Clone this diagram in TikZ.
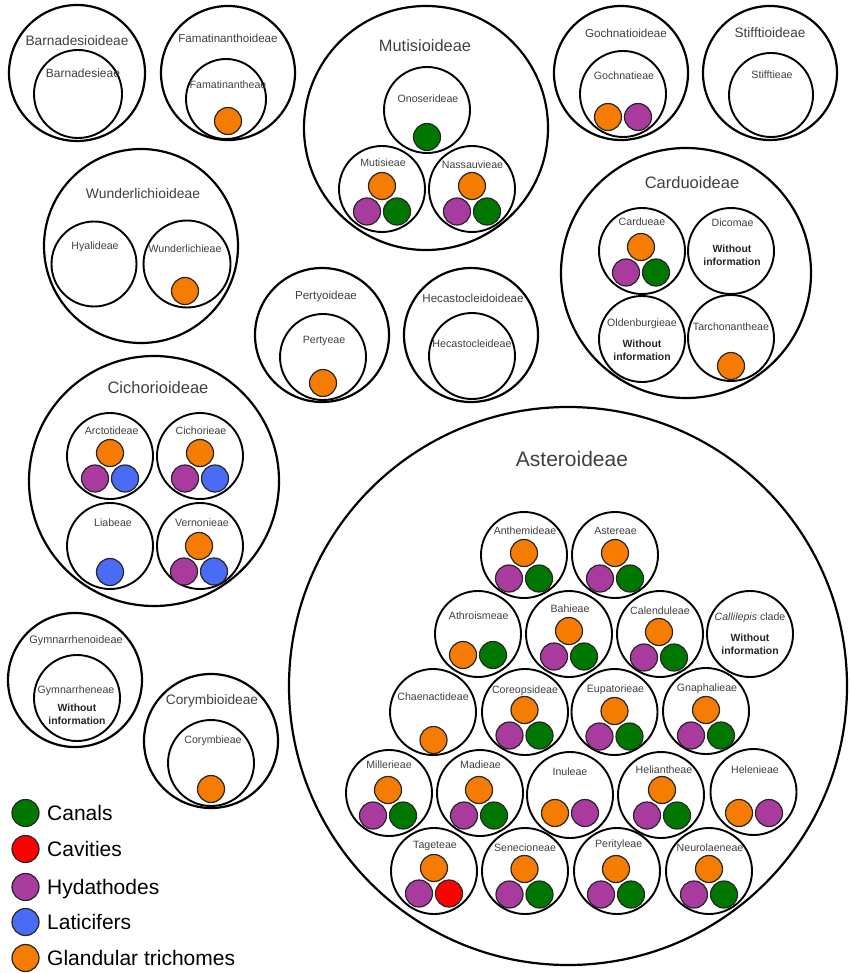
\documentclass[tikz,border=0pt]{standalone}
\usepackage{fontspec}
\setmainfont{Liberation Sans}
\definecolor{corange}{HTML}{F57C00}
\definecolor{cpurple}{HTML}{A93B9E}
\definecolor{cgreen}{HTML}{007800}
\definecolor{cblue}{HTML}{4A6CF4}
\definecolor{cred}{HTML}{FF0000}
\definecolor{labgray}{HTML}{404040}
% trio of dots: name, x, y (top dot), top colour, left colour, right colour
\newcommand\trio[6]{%
  \node[dot,fill=#5] (#1-l) at (#2-15,#3+25.5) {};
  \node[dot,fill=#6] (#1-r) at (#2+15,#3+25.5) {};
  \node[dot,fill=#4] (#1-t) at (#2,#3) {};}
% pair of dots: name, x (middle), y, left colour, right colour
\newcommand\duo[5]{%
  \node[dot,fill=#4] (#1-l) at (#2-15,#3) {};
  \node[dot,fill=#5] (#1-r) at (#2+15,#3) {};}
\begin{document}
\begin{tikzpicture}[x=1pt,y=-1pt,
  subfam/.style={circle,draw,line width=2.2pt,inner sep=0pt,minimum size=#1},
  tribe/.style={circle,draw,line width=1.9pt,inner sep=0pt,minimum size=86pt},
  dot/.style={circle,draw=black!85,line width=1.2pt,inner sep=0pt,minimum size=27pt},
  lab/.style={inner sep=0pt,text depth=0pt,text=labgray,font=\fontsize{10.6}{12.5}\selectfont},
  sflab/.style={inner sep=0pt,text depth=0pt,text=labgray,font=\fontsize{#1}{#1}\selectfont},
  noinfo/.style={inner sep=0pt,align=center,text=black!85,font=\fontsize{10.4}{12.8}\selectfont\bfseries},
  legtext/.style={inner sep=0pt,text depth=0pt,anchor=west,text=black,font=\fontsize{21}{24}\selectfont}
]
\fill[white] (0,0) rectangle (849,973);
\useasboundingbox (0,0) rectangle (849,973);

% ---------------- Barnadesioideae
\node[subfam=136pt] (barO) at (77,73) {};
\node[tribe,minimum size=88pt] (barI) at (78,94) {};
\node[sflab=13.7] (barL) at (77,41) {Barnadesioideae};
\node[lab,font=\fontsize{12}{14}\selectfont] (barT) at (83,73) {Barnadesieae};

% ---------------- Famatinanthoideae
\node[subfam=134pt] (famO) at (228,73) {};
\node[tribe,minimum size=80pt] (famI) at (226,99) {};
\node[sflab=11.6] (famL) at (228,38) {Famatinanthoideae};
\node[lab] (famT) at (228,85) {Famatinantheae};
\node[dot,fill=corange] (famD) at (228,121) {};

% ---------------- Gochnatioideae
\node[subfam=134pt] (gocO) at (621,73) {};
\node[tribe] (gocI) at (623,94) {};
\node[sflab=11.7] (gocL) at (626,33) {Gochnatioideae};
\node[lab] (gocT) at (624,76) {Gochnatieae};
\duo{goc}{623}{117}{corange}{cpurple}

% ---------------- Stifftioideae
\node[subfam=134pt] (stiO) at (770,73) {};
\node[tribe,minimum size=84pt] (stiI) at (771,95) {};
\node[sflab=13.6] (stiL) at (770,33) {Stifftioideae};
\node[lab] (stiT) at (772,75) {Stifftieae};

% ---------------- Mutisioideae
\node[subfam=244pt] (mutO) at (426,128) {};
\node[sflab=16.4] (mutL) at (425,46) {Mutisioideae};
\node[tribe] (onoI) at (427,110) {};
\node[lab] (onoT) at (428,99) {Onoserideae};
\node[dot,fill=cgreen] (onoD) at (427,137) {};
\node[tribe] (mtsI) at (382,189) {};
\node[lab] (mtsT) at (383,163) {Mutisieae};
\trio{mts}{382}{186}{corange}{cpurple}{cgreen}
\node[tribe] (nasI) at (472,189) {};
\node[lab] (nasT) at (472.5,165) {Nassauvieae};
\trio{nas}{472}{186}{corange}{cpurple}{cgreen}

% ---------------- Wunderlichioideae
\node[subfam=194pt] (wunO) at (141,246) {};
\node[sflab=13.9] (wunL) at (143,193) {Wunderlichioideae};
\node[tribe,minimum size=85pt] (hyaI) at (94,264) {};
\node[lab] (hyaT) at (95,246) {Hyalideae};
\node[tribe,minimum size=87pt] (wuiI) at (187,264) {};
\node[lab] (wuiT) at (185,249) {Wunderlichieae};
\node[dot,fill=corange] (wuiD) at (185,291) {};

% ---------------- Carduoideae
\node[subfam=250pt] (carO) at (686,273) {};
\node[sflab=16.5] (carL) at (692,183) {Carduoideae};
\node[tribe] (cdeI) at (642,251) {};
\node[lab] (cdeT) at (642,222) {Cardueae};
\trio{cde}{641}{247}{corange}{cpurple}{cgreen}
\node[tribe] (dicI) at (731,251) {};
\node[lab] (dicT) at (732.5,223) {Dicomae};
\node[noinfo] (dicN) at (732,255) {Without\\information};
\node[tribe] (oldI) at (642,339) {};
\node[lab] (oldT) at (642,323) {Oldenburgieae};
\node[noinfo] (oldN) at (642,350) {Without\\information};
\node[tribe] (tarI) at (731,338) {};
\node[lab] (tarT) at (731,327) {Tarchonantheae};
\node[dot,fill=corange] (tarD) at (731,366) {};

% ---------------- Pertyoideae
\node[subfam=134pt] (perO) at (322,335) {};
\node[sflab=11.6] (perL) at (326,295) {Pertyoideae};
\node[tribe] (perI) at (323,357) {};
\node[lab] (perT) at (324,340) {Pertyeae};
\node[dot,fill=corange] (perD) at (323,383) {};

% ---------------- Hecastocleidoideae
\node[subfam=134pt] (hecO) at (471,335) {};
\node[sflab=11.6] (hecL) at (473,298) {Hecastocleidoideae};
\node[tribe] (hecI) at (472,356) {};
\node[lab,font=\fontsize{10.7}{12.5}\selectfont] (hecT) at (472,344) {Hecastocleideae};

% ---------------- Cichorioideae
\node[subfam=250pt] (cicO) at (154,481) {};
\node[sflab=16.5] (cicL) at (158,388) {Cichorioideae};
\node[tribe] (arcI) at (110,456) {};
\node[lab] (arcT) at (111.7,431) {Arctotideae};
\trio{arc}{110}{453}{corange}{cpurple}{cblue}
\node[tribe] (chiI) at (200,456) {};
\node[lab] (chiT) at (201,431) {Cichorieae};
\trio{chi}{200}{453}{corange}{cpurple}{cblue}
\node[tribe] (liaI) at (110,546) {};
\node[lab] (liaT) at (113,523) {Liabeae};
\node[dot,fill=cblue] (liaD) at (110,572) {};
\node[tribe] (verI) at (200,546) {};
\node[lab] (verT) at (202,523) {Vernonieae};
\trio{ver}{199}{546}{corange}{cpurple}{cblue}

% ---------------- Gymnarrhenoideae
\node[subfam=134pt] (gymO) at (75,680) {};
\node[sflab=10.9] (gymL) at (76,640) {Gymnarrhenoideae};
\node[tribe] (gymI) at (77,698) {};
\node[lab] (gymT) at (76,690) {Gymnarrheneae};
\node[noinfo] (gymN) at (77,714) {Without\\information};

% ---------------- Corymbioideae
\node[subfam=134pt] (corO) at (211,741) {};
\node[sflab=13.7] (corL) at (212,700) {Corymbioideae};
\node[tribe] (corI) at (211,763) {};
\node[lab] (corT) at (213,740) {Corymbieae};
\node[dot,fill=corange] (corD) at (211,789) {};

% ---------------- Asteroideae
\node[subfam=558pt] (astO) at (568,686) {};
\node[sflab=21] (astL) at (572,459) {Asteroideae};

\node[tribe] (antI) at (524,555) {};
\node[lab] (antT) at (525,531) {Anthemideae};
\trio{ant}{524}{553}{corange}{cpurple}{cgreen}
\node[tribe] (astI) at (615,555) {};
\node[lab] (astT) at (615.5,531) {Astereae};
\trio{ast}{615}{553}{corange}{cpurple}{cgreen}

\node[tribe] (athI) at (478,634) {};
\node[lab] (athT) at (478.7,616) {Athroismeae};
\duo{ath}{478}{655}{corange}{cgreen}
\node[tribe] (bahI) at (569,634) {};
\node[lab] (bahT) at (570,609) {Bahieae};
\trio{bah}{569}{631}{corange}{cpurple}{cgreen}
\node[tribe] (calI) at (660,634) {};
\node[lab] (calT) at (660,611) {Calenduleae};
\trio{cal}{659}{632}{corange}{cpurple}{cgreen}
\node[tribe] (cllI) at (750,634) {};
\node[lab] (cllT) at (750,617) {\textit{Callilepis} clade};
\node[noinfo] (cllN) at (750,644.5) {Without\\information};

\node[tribe] (chaI) at (433,712) {};
\node[lab] (chaT) at (433,697) {Chaenactideae};
\node[dot,fill=corange] (chaD) at (433.5,740) {};
\node[tribe] (creI) at (525,712) {};
\node[lab] (creT) at (525,690) {Coreopsideae};
\trio{cre}{524.5}{710}{corange}{cpurple}{cgreen}
\node[tribe] (eupI) at (614.5,712) {};
\node[lab] (eupT) at (615.5,689) {Eupatorieae};
\trio{eup}{614.5}{711}{corange}{cpurple}{cgreen}
\node[tribe] (gnaI) at (706,711) {};
\node[lab] (gnaT) at (707,688) {Gnaphalieae};
\trio{gna}{706}{710}{corange}{cpurple}{cgreen}

\node[tribe] (milI) at (389,793) {};
\node[lab] (milT) at (389,765) {Millerieae};
\trio{mil}{388}{790}{corange}{cpurple}{cgreen}
\node[tribe] (madI) at (480,793) {};
\node[lab] (madT) at (480.5,765) {Madieae};
\trio{mad}{479}{790}{corange}{cpurple}{cgreen}
\node[tribe] (inuI) at (570,795) {};
\node[lab] (inuT) at (570,772) {Inuleae};
\duo{inu}{570}{813}{corange}{cpurple}
\node[tribe] (helI) at (661,795) {};
\node[lab] (helT) at (664,770) {Heliantheae};
\trio{hel}{662}{790}{corange}{cpurple}{cgreen}
\node[tribe] (hleI) at (753.5,792) {};
\node[lab] (hleT) at (755,770) {Helenieae};
\duo{hle}{754}{813}{corange}{cpurple}

\node[tribe] (tagI) at (434,871) {};
\node[lab] (tagT) at (435,845) {Tageteae};
\trio{tag}{434}{868}{corange}{cpurple}{cred}
\node[tribe] (senI) at (525,871) {};
\node[lab] (senT) at (525,848) {Senecioneae};
\trio{sen}{524.5}{869}{corange}{cpurple}{cgreen}
\node[tribe] (ptyI) at (617,871) {};
\node[lab] (ptyT) at (618.7,844) {Perityleae};
\trio{pty}{616}{869}{corange}{cpurple}{cgreen}
\node[tribe] (neuI) at (709,871) {};
\node[lab] (neuT) at (710,848) {Neurolaeneae};
\trio{neu}{709}{869}{corange}{cpurple}{cgreen}

% ---------------- Legend
\node[dot,fill=cgreen] (lg1) at (25.5,813) {};
\node[legtext] (lt1) at (47,813) {Canals};
\node[dot,fill=cred] (lg2) at (25.5,849) {};
\node[legtext] (lt2) at (47,849) {Cavities};
\node[dot,fill=cpurple] (lg3) at (25.5,887) {};
\node[legtext] (lt3) at (47,887) {Hydathodes};
\node[dot,fill=cblue] (lg4) at (25.5,922) {};
\node[legtext] (lt4) at (47,922) {Laticifers};
\node[dot,fill=corange] (lg5) at (25.5,958) {};
\node[legtext] (lt5) at (47,958) {Glandular trichomes};
\end{tikzpicture}
\end{document}
